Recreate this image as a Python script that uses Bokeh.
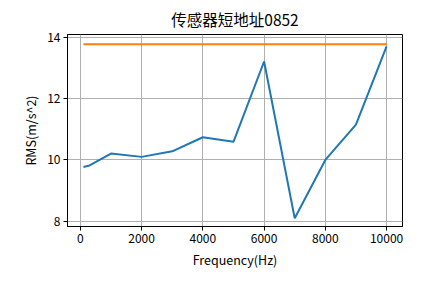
from bokeh.plotting import figure
from bokeh.models import Range1d, FixedTicker
from bokeh.embed import file_html
from bokeh.resources import INLINE

freq = [100, 300, 1000, 2000, 3000, 4000, 5000, 6000, 7000, 8000, 9000, 10000]
rms = [9.77, 9.82, 10.21, 10.10, 10.28, 10.74, 10.59, 13.21, 8.10, 10.00, 11.15, 13.70]
limit_x = [100, 10000]
limit_y = [13.77, 13.77]
x_ticks = [0, 2000, 4000, 6000, 8000, 10000]
y_ticks = [8, 10, 12, 14]

FONT = "Noto Sans CJK SC"

p = figure(width=445, height=283, output_backend="svg", toolbar_location=None,
           x_range=Range1d(-420, 10520), y_range=Range1d(7.83, 14.09),
           title="传感器短地址0852",
           min_border_left=67, min_border_right=43, min_border_top=33, min_border_bottom=57)

p.title.align = "center"
p.title.text_font = FONT
p.title.text_font_size = "15.5px"
p.title.text_font_style = "normal"
p.title.text_color = "black"
p.title.offset = 0

p.line(freq, rms, line_color="#1f77b4", line_width=2)
p.line(limit_x, limit_y, line_color="#ff7f0e", line_width=2)

p.xaxis.ticker = FixedTicker(ticks=x_ticks)
p.yaxis.ticker = FixedTicker(ticks=y_ticks)
p.xaxis.axis_label = "Frequency(Hz)"
p.yaxis.axis_label = "RMS(m/s^2)"
for ax in (p.xaxis, p.yaxis):
    ax.axis_label_text_font = FONT
    ax.axis_label_text_font_size = "12.5px"
    ax.axis_label_text_font_style = "normal"
    ax.axis_label_text_color = "black"
    ax.major_label_text_font = FONT
    ax.major_label_text_font_size = "12px"
    ax.major_label_text_color = "black"
    ax.major_tick_in = 0
    ax.major_tick_out = 4
    ax.minor_tick_line_color = None
    ax.axis_line_color = "black"
    ax.major_tick_line_color = "black"
    ax.axis_label_standoff = 4
    ax.major_label_standoff = 3

p.xgrid.grid_line_color = "#b0b0b0"
p.ygrid.grid_line_color = "#b0b0b0"
p.xgrid.grid_line_width = 1
p.ygrid.grid_line_width = 1
p.outline_line_color = "black"
p.outline_line_width = 1
p.outline_line_alpha = 1
p.background_fill_color = "white"
p.border_fill_color = "white"

open("out.html", "w").write(file_html(p, INLINE))
